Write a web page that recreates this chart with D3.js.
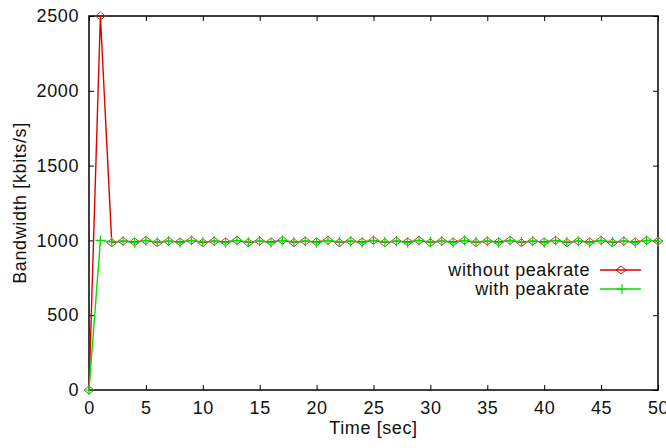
<!DOCTYPE html>
<html>
<head>
<meta charset="utf-8">
<script src="https://cdn.jsdelivr.net/npm/d3@7/dist/d3.min.js"></script>
<style>
  html, body { margin: 0; padding: 0; background: #fff; }
  svg { display: block; }
  text { font-family: "Liberation Sans", Arial, sans-serif; fill: #111; letter-spacing: 0.6px; }
</style>
</head>
<body>
<svg id="chart" width="666" height="448"></svg>
<script>
// Time samples (seconds)
const times = d3.range(0, 51);

// Measured bandwidth in kbit/s, one sample per second
const withoutPeakrate = [
  0, 2500, 985, 995, 990, 1000, 985, 995, 990, 1000,
  985, 995, 990, 1000, 985, 995, 990, 1000, 985, 995,
  990, 1000, 985, 995, 990, 1000, 985, 995, 990, 1000,
  985, 995, 990, 1000, 985, 995, 990, 1000, 985, 995,
  990, 1000, 985, 995, 990, 1000, 985, 995, 990, 1000, 995
];
const withPeakrate = [
  0, 1000, 990, 995, 985, 1000, 990, 995, 985, 1000,
  990, 995, 985, 1000, 990, 995, 985, 1000, 990, 995,
  985, 1000, 990, 995, 985, 1000, 990, 995, 985, 1000,
  990, 995, 985, 1000, 990, 995, 985, 1000, 990, 995,
  985, 1000, 990, 995, 985, 1000, 990, 995, 985, 1000, 995
];

const xTicks = [0, 5, 10, 15, 20, 25, 30, 35, 40, 45, 50];
const yTicks = [0, 500, 1000, 1500, 2000, 2500];

const seriesNames = ["without peakrate", "with peakrate"];
const seriesColors = ["#dd0000", "#00e000"];

const svg = d3.select("#chart");
const plotLeft = 89, plotRight = 658, plotTop = 16, plotBottom = 390;

const x = d3.scaleLinear().domain([0, 50]).range([plotLeft, plotRight]);
const y = d3.scaleLinear().domain([0, 2500]).range([plotBottom, plotTop]);

const fontSize = 18;

// Axes: inward ticks mirrored on all four sides (gnuplot style)
const gAxes = svg.append("g");
gAxes.append("g").attr("transform", `translate(0,${plotBottom})`)
  .call(d3.axisBottom(x).tickValues(xTicks).tickSize(-5).tickPadding(11).tickFormat(d3.format("d")));
gAxes.append("g").attr("transform", `translate(0,${plotTop})`)
  .call(d3.axisTop(x).tickValues(xTicks).tickSize(-5).tickFormat(""));
gAxes.append("g").attr("transform", `translate(${plotLeft},0)`)
  .call(d3.axisLeft(y).tickValues(yTicks).tickSize(-5).tickPadding(10).tickFormat(d3.format("d")));
gAxes.append("g").attr("transform", `translate(${plotRight},0)`)
  .call(d3.axisRight(y).tickValues(yTicks).tickSize(-5).tickFormat(""));
gAxes.selectAll(".domain").remove();
gAxes.selectAll(".tick line").attr("stroke", "#000").attr("stroke-width", 1);
gAxes.selectAll(".tick text").attr("font-size", fontSize).attr("font-family", "Liberation Sans, Arial, sans-serif").attr("fill", "#111");

// Plot border
svg.append("rect")
  .attr("x", plotLeft).attr("y", plotTop)
  .attr("width", plotRight - plotLeft).attr("height", plotBottom - plotTop)
  .attr("fill", "none").attr("stroke", "#000").attr("stroke-width", 1.5);

// Axis titles
svg.append("text")
  .attr("x", (plotLeft + plotRight) / 2).attr("y", 434)
  .attr("text-anchor", "middle").attr("font-size", fontSize)
  .text("Time [sec]");
svg.append("text")
  .attr("transform", `translate(26,${(plotTop + plotBottom) / 2}) rotate(-90)`)
  .attr("text-anchor", "middle").attr("font-size", fontSize)
  .text("Bandwidth [kbits/s]");

const line = d3.line().x((d, i) => x(times[i])).y(d => y(d));

function diamond(g, cx, cy, color) {
  g.append("path")
    .attr("d", `M${cx - 5},${cy}L${cx},${cy - 4}L${cx + 5},${cy}L${cx},${cy + 4}Z`)
    .attr("fill", "none").attr("stroke", color).attr("stroke-width", 1);
}
function plus(g, cx, cy, color) {
  g.append("path")
    .attr("d", `M${cx - 5},${cy}H${cx + 5}M${cx},${cy - 5}V${cy + 5}`)
    .attr("fill", "none").attr("stroke", color).attr("stroke-width", 1.2);
}

// Series: without peakrate (red, diamonds)
const g1 = svg.append("g");
g1.append("path").datum(withoutPeakrate)
  .attr("d", line).attr("fill", "none")
  .attr("stroke", seriesColors[0]).attr("stroke-width", 1.4);
withoutPeakrate.forEach((v, i) => diamond(g1, x(times[i]), y(v), "#a84a38"));

// Series: with peakrate (green, plus)
const g2 = svg.append("g");
g2.append("path").datum(withPeakrate)
  .attr("d", line).attr("fill", "none")
  .attr("stroke", seriesColors[1]).attr("stroke-width", 1.4);
withPeakrate.forEach((v, i) => plus(g2, x(times[i]), y(v), seriesColors[1]));

// Legend
const legendY = [270, 289];
seriesNames.forEach((name, i) => {
  svg.append("text")
    .attr("x", 590).attr("y", legendY[i]).attr("dy", "0.35em")
    .attr("text-anchor", "end").attr("font-size", fontSize)
    .text(name);
  svg.append("line")
    .attr("x1", 600).attr("x2", 641).attr("y1", legendY[i]).attr("y2", legendY[i])
    .attr("stroke", seriesColors[i]).attr("stroke-width", 1.4);
  if (i === 0) diamond(svg, 621, legendY[i], seriesColors[0]);
  else plus(svg, 622, legendY[i], seriesColors[1]);
});
</script>
</body>
</html>
